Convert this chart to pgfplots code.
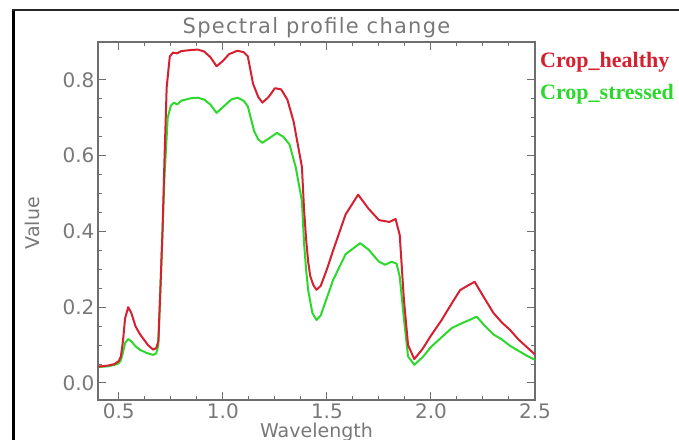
\documentclass[border=0pt]{standalone}
\usepackage{pgfplots}
\pgfplotsset{compat=1.18}
\usepackage{fontspec}
\setmainfont{DejaVu Sans}
\newfontfamily\legfont{Liberation Serif}

\definecolor{healthy}{HTML}{D42030}
\definecolor{stressed}{HTML}{2CD82C}
\definecolor{axgray}{HTML}{6E6E6E}
\definecolor{txgray}{HTML}{787878}

\begin{document}
\begin{tikzpicture}
  \path[use as bounding box] (-98pt,-39pt) rectangle (581pt,400pt);
  % outer frame of the window
  \draw[black, line width=3pt] (-84.5pt,-42pt) -- (-84.5pt,390pt);
  \draw[black!85, line width=1.5pt] (-86pt,390pt) -- (584pt,390pt);
  \begin{axis}[
    at={(0pt,0pt)}, anchor=south west,
    width=437pt, height=358pt, scale only axis,
    xmin=0.4, xmax=2.5, ymin=-0.045, ymax=0.9,
    xtick={0.5,1.0,1.5,2.0,2.5}, ytick={0,0.2,0.4,0.6,0.8},
    minor x tick num=3, minor y tick num=3,
    tick align=inside, major tick length=8pt, minor tick length=4pt,
    axis line style={axgray, line width=1.2pt},
    every tick/.style={axgray, line width=1pt},
    tick label style={font=\fontsize{20}{24}\selectfont, txgray},
    /pgf/number format/fixed, /pgf/number format/fixed zerofill,
    /pgf/number format/precision=1,
    /pgf/number format/assume math mode=true,
    title={Spectral profile change},
    title style={font=\fontsize{21}{25}\selectfont\addfontfeatures{LetterSpace=6}, txgray,
                 at={(0.5,1)}, anchor=base, yshift=3pt},
    xlabel={Wavelength},
    xlabel style={font=\fontsize{19}{23}\selectfont, txgray, yshift=2pt},
    ylabel={Value},
    ylabel style={font=\fontsize{19}{23}\selectfont, txgray,
                  at={(axis description cs:-0.151,0.494)}, anchor=center},
  ]
    % Crop_stressed
    \addplot[stressed, line width=2pt, line join=round] coordinates {
      (0.40,0.042) (0.45,0.044) (0.48,0.048) (0.50,0.052) (0.51,0.060) (0.52,0.080)
      (0.53,0.105) (0.545,0.116) (0.56,0.110) (0.58,0.097) (0.60,0.088) (0.63,0.080)
      (0.665,0.074) (0.68,0.078) (0.69,0.100) (0.70,0.250) (0.71,0.400) (0.72,0.550)
      (0.735,0.700) (0.75,0.732) (0.765,0.740) (0.78,0.735) (0.80,0.745) (0.85,0.752)
      (0.88,0.753) (0.91,0.748) (0.94,0.735) (0.97,0.713) (1.00,0.728) (1.04,0.748)
      (1.07,0.753) (1.10,0.745) (1.12,0.730) (1.15,0.665) (1.17,0.643) (1.19,0.634)
      (1.22,0.645) (1.26,0.660) (1.29,0.650) (1.32,0.630) (1.35,0.570) (1.38,0.480)
      (1.39,0.370) (1.40,0.300) (1.41,0.245) (1.43,0.185) (1.45,0.166) (1.47,0.178)
      (1.50,0.225) (1.53,0.272) (1.59,0.340) (1.66,0.369) (1.70,0.352) (1.75,0.320)
      (1.78,0.312) (1.81,0.320) (1.835,0.315) (1.85,0.280) (1.87,0.170) (1.89,0.070)
      (1.92,0.048) (1.96,0.068) (2.00,0.095) (2.05,0.120) (2.10,0.145) (2.15,0.158)
      (2.18,0.165) (2.22,0.175) (2.26,0.150) (2.30,0.128) (2.34,0.115) (2.38,0.098)
      (2.42,0.085) (2.46,0.072) (2.50,0.061)};
    % Crop_healthy
    \addplot[healthy, line width=2pt, line join=round] coordinates {
      (0.40,0.043) (0.45,0.046) (0.48,0.050) (0.50,0.058) (0.51,0.070) (0.52,0.110)
      (0.53,0.170) (0.545,0.200) (0.56,0.185) (0.58,0.150) (0.60,0.130) (0.62,0.115)
      (0.64,0.100) (0.665,0.088) (0.68,0.092) (0.69,0.110) (0.70,0.250) (0.71,0.400)
      (0.72,0.600) (0.73,0.780) (0.745,0.862) (0.76,0.872) (0.78,0.870) (0.80,0.876)
      (0.85,0.879) (0.88,0.880) (0.91,0.875) (0.94,0.860) (0.97,0.836) (1.00,0.850)
      (1.03,0.868) (1.07,0.877) (1.10,0.873) (1.12,0.862) (1.145,0.790) (1.17,0.755)
      (1.19,0.740) (1.22,0.755) (1.25,0.778) (1.28,0.775) (1.31,0.748) (1.34,0.690)
      (1.36,0.630) (1.38,0.570) (1.39,0.460) (1.40,0.380) (1.41,0.320) (1.42,0.282)
      (1.435,0.258) (1.45,0.246) (1.47,0.256) (1.50,0.300) (1.53,0.350) (1.59,0.445)
      (1.65,0.497) (1.70,0.460) (1.75,0.430) (1.80,0.425) (1.83,0.433) (1.85,0.390)
      (1.87,0.220) (1.89,0.100) (1.92,0.063) (1.96,0.090) (2.00,0.125) (2.05,0.165)
      (2.10,0.210) (2.14,0.245) (2.18,0.258) (2.21,0.267) (2.25,0.230) (2.30,0.185)
      (2.34,0.160) (2.38,0.140) (2.42,0.115) (2.46,0.095) (2.50,0.075)};
  \end{axis}
  \node[anchor=base west, inner sep=0pt, text=healthy,
        font=\legfont\bfseries\fontsize{22}{26}\selectfont] at (442pt,332pt) {Crop\_healthy};
  \node[anchor=base west, inner sep=0pt, text=stressed,
        font=\legfont\bfseries\fontsize{22}{26}\selectfont] at (442pt,300pt) {Crop\_stressed};
\end{tikzpicture}
\end{document}
